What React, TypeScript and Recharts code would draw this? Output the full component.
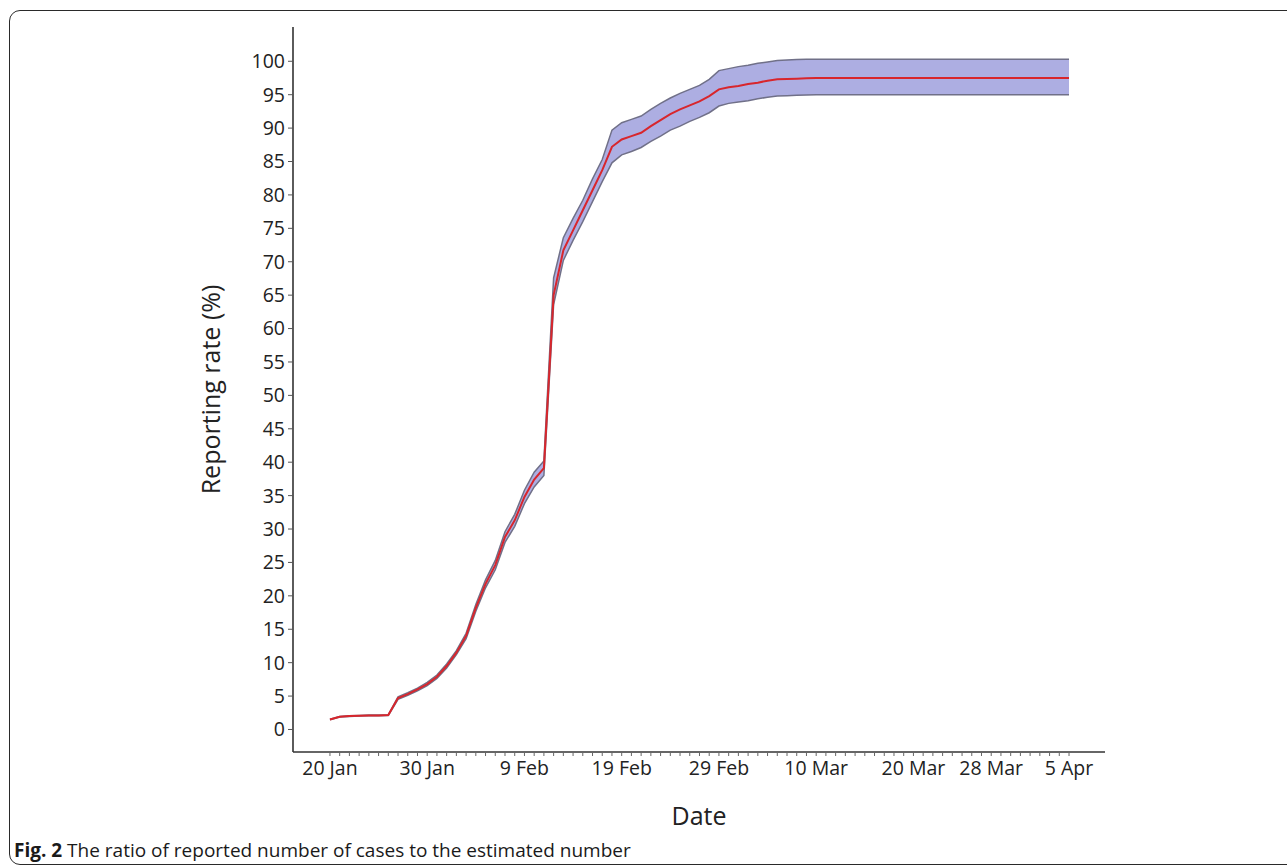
import { ComposedChart, Line, Area, XAxis, YAxis } from 'recharts'

// daily values from 20 Jan (day 0) to 5 Apr (day 76)
const reportRate = [
  1.5, 1.9, 2.0, 2.05, 2.1, 2.1, 2.15, 4.7, 5.3, 6.0,
  6.8, 7.9, 9.5, 11.5, 14.0, 18.2, 21.8, 24.6, 28.8, 31.3,
  34.8, 37.4, 39.1, 65.0, 71.7, 74.7, 77.7, 80.7, 83.7, 87.2,
  88.3, 88.8, 89.3, 90.3, 91.2, 92.1, 92.8, 93.4, 94.0, 94.8,
  95.8, 96.1, 96.3, 96.6, 96.8, 97.1, 97.3, 97.35, 97.4, 97.45,
  97.5, 97.5, 97.5, 97.5, 97.5, 97.5, 97.5, 97.5, 97.5, 97.5,
  97.5, 97.5, 97.5, 97.5, 97.5, 97.5, 97.5, 97.5, 97.5, 97.5,
  97.5, 97.5, 97.5, 97.5, 97.5, 97.5, 97.5,
]

const upperCI = [
  1.55, 1.95, 2.05, 2.1, 2.15, 2.15, 2.2, 4.9, 5.5, 6.2,
  7.05, 8.15, 9.8, 11.8, 14.4, 18.7, 22.4, 25.3, 29.6, 32.2,
  35.8, 38.5, 40.2, 67.6, 73.6, 76.5, 79.2, 82.4, 85.3, 89.7,
  90.8, 91.3, 91.8, 92.8, 93.7, 94.5, 95.2, 95.8, 96.4, 97.3,
  98.6, 98.9, 99.2, 99.4, 99.7, 99.9, 100.1, 100.2, 100.25, 100.3,
  100.3, 100.3, 100.3, 100.3, 100.3, 100.3, 100.3, 100.3, 100.3, 100.3,
  100.3, 100.3, 100.3, 100.3, 100.3, 100.3, 100.3, 100.3, 100.3, 100.3,
  100.3, 100.3, 100.3, 100.3, 100.3, 100.3, 100.3,
]

const lowerCI = [
  1.45, 1.85, 1.95, 2.0, 2.05, 2.05, 2.1, 4.5, 5.1, 5.8,
  6.55, 7.65, 9.2, 11.2, 13.6, 17.7, 21.2, 23.9, 28.0, 30.4,
  33.8, 36.3, 38.0, 63.6, 70.2, 73.2, 76.0, 79.0, 82.0, 84.8,
  86.0, 86.5, 87.1, 88.0, 88.8, 89.7, 90.3, 91.0, 91.6, 92.3,
  93.3, 93.7, 93.9, 94.1, 94.4, 94.6, 94.8, 94.85, 94.9, 94.95,
  95.0, 95.0, 95.0, 95.0, 95.0, 95.0, 95.0, 95.0, 95.0, 95.0,
  95.0, 95.0, 95.0, 95.0, 95.0, 95.0, 95.0, 95.0, 95.0, 95.0,
  95.0, 95.0, 95.0, 95.0, 95.0, 95.0, 95.0,
]

const labelDays = [0, 10, 20, 30, 40, 50, 60, 68, 76]
const labelTexts = ['20 Jan', '30 Jan', '9 Feb', '19 Feb', '29 Feb', '10 Mar', '20 Mar', '28 Mar', '5 Apr']

const yTicks = [0, 5, 10, 15, 20, 25, 30, 35, 40, 45, 50, 55, 60, 65, 70, 75, 80, 85, 90, 95, 100]

const data = reportRate.map((v, i) => ({
  day: i,
  rate: v,
  upper: upperCI[i],
  lower: lowerCI[i],
  band: [lowerCI[i], upperCI[i]],
}))
const dayTicks = data.map(d => d.day)

const FONT = '"Open Sans", "Noto Sans", sans-serif'
const TEXT = '#222'

function DateTick({ x, y, payload }: any) {
  const idx = labelDays.indexOf(payload.value)
  if (idx < 0) return null
  return (
    <text x={x} y={y} dy="0.71em" textAnchor="middle" fill={TEXT} fontSize={19.5} fontFamily={FONT}>
      {labelTexts[idx]}
    </text>
  )
}

export default function App() {
  return (
    <div style={{ position: 'absolute', left: 0, top: 0, width: 1287, height: 868, overflow: 'hidden', background: '#fff' }}>
      <div style={{
        position: 'absolute', left: 9, top: 10, width: 1300, height: 855,
        border: '1.6px solid #2a2a2a', borderRadius: 11, boxSizing: 'border-box',
      }} />
      <div style={{ position: 'absolute', left: 0, top: 0 }}>
        <ComposedChart width={1287} height={868} data={data} margin={{ top: 27, right: 182, bottom: 56, left: 213 }}>
          <XAxis
            dataKey="day"
            type="number"
            domain={[-3.8, 79.7]}
            ticks={dayTicks}
            interval={0}
            allowDataOverflow
            height={60}
            tickSize={4}
            tickMargin={5}
            tick={<DateTick />}
            axisLine={{ stroke: '#333', strokeWidth: 1.6 }}
            tickLine={{ stroke: '#666', strokeWidth: 1 }}
            label={{
              content: ({ viewBox }: any) => (
                <text x={viewBox.x + viewBox.width / 2} y={viewBox.y + 63} textAnchor="middle" dominantBaseline="central"
                  fill={TEXT} fontSize={25} fontFamily={FONT}>Date</text>
              ),
            }}
          />
          <YAxis
            type="number"
            domain={[-3.37, 105.13]}
            ticks={yTicks}
            interval={0}
            allowDataOverflow
            width={80}
            tickSize={5}
            tickMargin={3}
            tick={{ fill: TEXT, fontSize: 19.5, fontFamily: FONT }}
            axisLine={{ stroke: '#333', strokeWidth: 1.6 }}
            tickLine={{ stroke: '#555', strokeWidth: 1 }}
            label={{
              content: ({ viewBox }: any) => {
                const cx = viewBox.x - 3
                const cy = viewBox.y + viewBox.height / 2
                return (
                  <text x={cx} y={cy} transform={`rotate(-90 ${cx} ${cy})`} textAnchor="middle" dominantBaseline="central"
                    fill={TEXT} fontSize={25} fontFamily={FONT}>Reporting rate (%)</text>
                )
              },
            }}
          />
          <Area type="linear" dataKey="band" stroke="none" fill="#adaee2" fillOpacity={1} isAnimationActive={false} />
          <Line type="linear" dataKey="upper" stroke="#707088" strokeWidth={1.5} dot={false} activeDot={false} isAnimationActive={false} />
          <Line type="linear" dataKey="lower" stroke="#707088" strokeWidth={1.5} dot={false} activeDot={false} isAnimationActive={false} />
          <Line type="linear" dataKey="rate" stroke="#d8262c" strokeWidth={2} dot={false} activeDot={false} isAnimationActive={false} />
        </ComposedChart>
      </div>
      <div style={{
        position: 'absolute', left: 14, top: 841, fontFamily: FONT, fontSize: 19, lineHeight: '19px',
        color: '#1a1a1a', whiteSpace: 'nowrap',
      }}>
        <b>Fig. 2</b> The ratio of reported number of cases to the estimated number
      </div>
    </div>
  )
}
